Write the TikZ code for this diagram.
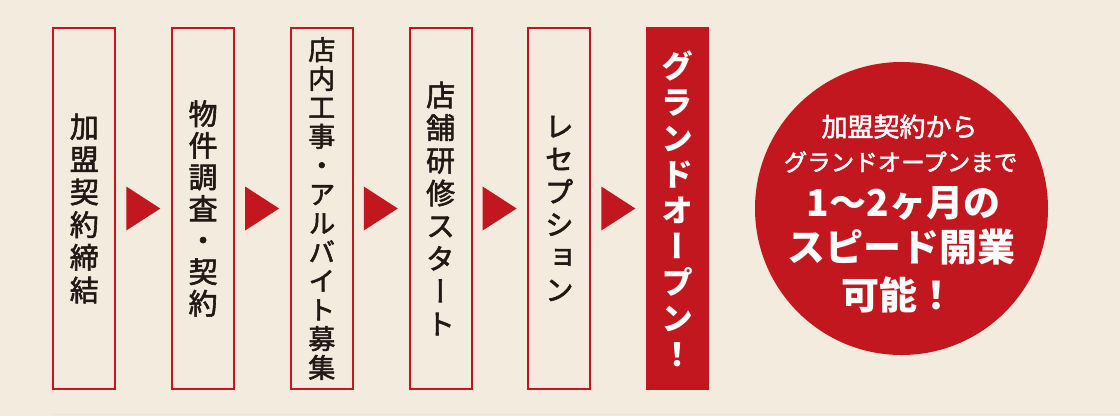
\documentclass[tikz,border=0pt]{standalone}
\usepackage{fontspec}
\newfontfamily\jpv{Noto Sans CJK JP}[RawFeature=+vert, FakeBold=2]
\newfontfamily\jpvb{Noto Sans CJK JP}[RawFeature=+vert]
\newfontfamily\jph{Noto Sans CJK JP}[FakeBold=2]
\newfontfamily\jphb{Noto Sans CJK JP}
\usetikzlibrary{calc}
\definecolor{bgc}{HTML}{F3EBDD}
\definecolor{redc}{HTML}{C3171F}
\definecolor{inkc}{HTML}{231815}
\definecolor{linec}{HTML}{EDE4D5}
\begin{document}
\begin{tikzpicture}[x=1pt,y=-1pt,
  stepbox/.style={draw=redc, line width=2pt, minimum width=62pt, minimum height=361pt,
    inner sep=0pt, align=center, text=inkc, font=\jpv\fontsize{29}{32.7}\selectfont},
  goalbox/.style={fill=redc, minimum width=63.5pt, minimum height=363pt,
    inner sep=0pt, align=center, text=white, font=\jpvb\bfseries\fontsize{32}{36}\selectfont},
  tri/.style={fill=redc},
  circtext/.style={text=white, anchor=base, inner sep=0pt}]
\fill[bgc] (0,0) rectangle (1120,416);
\useasboundingbox (0,0) rectangle (1120,416);
\draw[linec, line width=1pt] (52,414.5) -- (1120,414.5);

\node[stepbox] (b1) at (84.3,208.5) {加\\盟\\契\\約\\締\\結};
\node[stepbox, font=\jpv\fontsize{29}{31.6}\selectfont] (b2) at (203.1,208.5) {物\\件\\調\\査\\・\\契\\約};
\node[stepbox, font=\jpv\fontsize{27}{28.9}\selectfont] (b3) at (321.8,208.5)
  {店\\内\\工\\事\\・\\ア\\ル\\バ\\イ\\ト\\募\\集};
\node[stepbox] (b4) at (440.6,208.5) {店\\舗\\研\\修\\ス\\タ\\ー\\ト};
\node[stepbox] (b5) at (559.3,208.5) {レ\\セ\\プ\\シ\\ョ\\ン};
\node[goalbox] (b6) at (677.5,208.5) {グ\\ラ\\ン\\ド\\オ\\ー\\プ\\ン\\！};

\foreach \a/\b in {b1/b2,b2/b3,b3/b4,b4/b5,b5/b6}{
  \fill[tri] ($(\a.east)+(10,-22)$) -- ++(34,22) -- ++(-34,22) -- cycle;
}

\node[circle, fill=redc, minimum size=293pt, inner sep=0pt] (circ) at (901.5,208.5) {};
\node[circtext, font=\jph\fontsize{26}{26}\selectfont] (t1) at ($(circ.center)+(-2,-72)$) {加盟契約から};
\node[circtext, font=\jph\fontsize{23.5}{23.5}\selectfont] (t2) at ($(circ.center)+(-1,-37.5)$) {グランドオープンまで};
\node[circtext, font=\jphb\bfseries\fontsize{37}{37}\selectfont] (t3) at ($(circ.center)+(2,7.5)$) {1〜2ヶ月の};
\node[circtext, font=\jphb\bfseries\fontsize{38}{38}\selectfont] (t4) at ($(circ.center)+(0,53)$) {スピード開業};
\node[circtext, font=\jphb\bfseries\fontsize{38}{38}\selectfont] (t5) at ($(circ.center)+(-3,101)$) {可能！};
\end{tikzpicture}
\end{document}
